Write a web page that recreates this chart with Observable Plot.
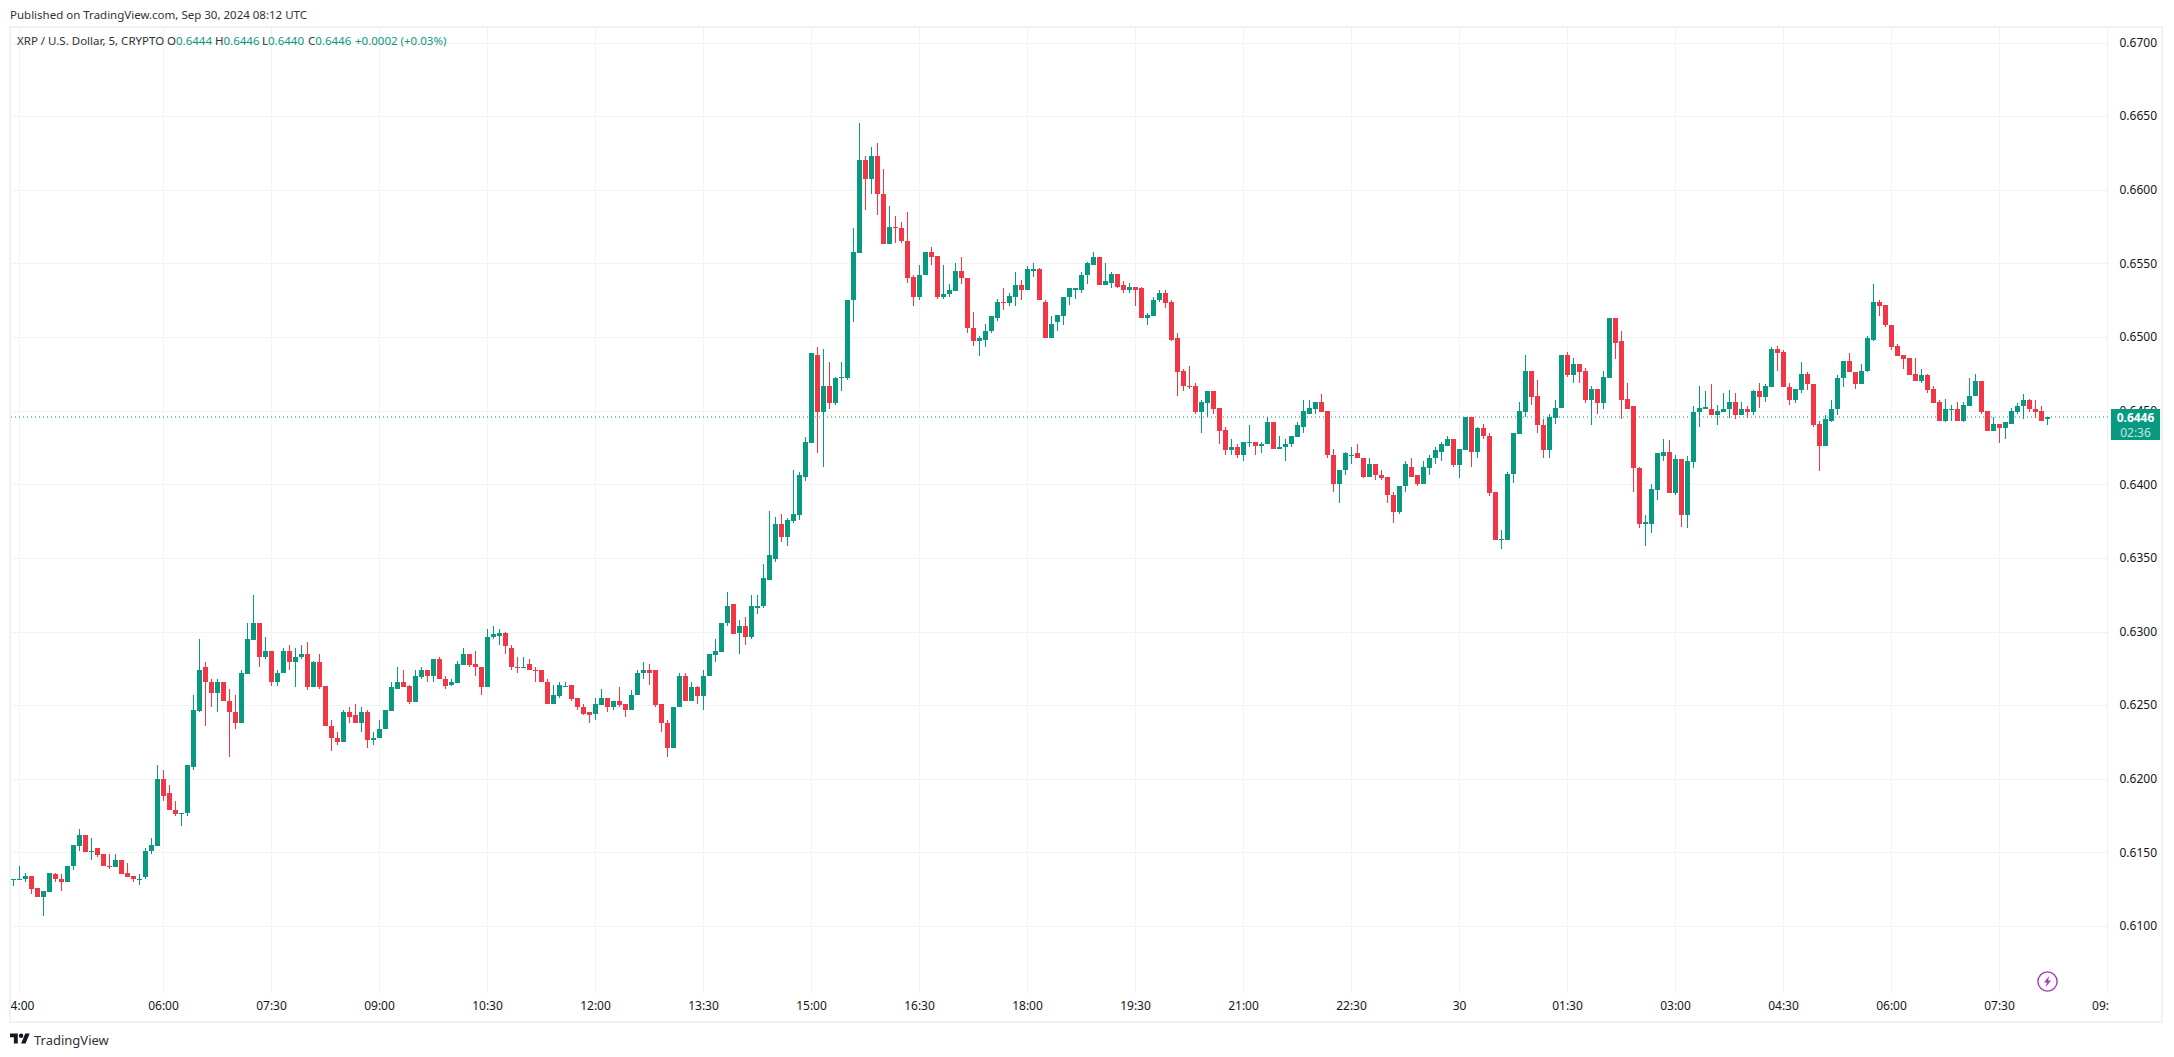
<!DOCTYPE html>
<html><head><meta charset="utf-8">
<script src="https://cdn.jsdelivr.net/npm/d3@7"></script>
<script src="https://cdn.jsdelivr.net/npm/@observablehq/plot@0.6"></script>
<style>
html,body{margin:0;background:#fff;overflow:hidden}
#page{position:relative;width:2174px;height:1057px;font-family:"Noto Sans",sans-serif;color:#131722}
#page svg{display:block}
.abs{position:absolute;white-space:pre}
.g{color:#089981}
</style></head><body>
<div id="page"></div>
<script>
const opens=[
.6132,.6132,.6132,.6134,.6126,.6120,.6123,.6135,.6132,.6130,
.6141,.6154,.6162,.6151,.6153,.6149,.6141,.6140,.6145,.6136,
.6134,.6132,.6133,.6151,.6154,.6200,.6190,.6179,.6176,.6177,
.6208,.6246,.6276,.6266,.6258,.6266,.6253,.6245,.6238,.6271,
.6294,.6306,.6283,.6287,.6266,.6272,.6287,.6279,.6283,.6285,
.6262,.6279,.6263,.6236,.6228,.6225,.6245,.6243,.6238,.6245,
.6226,.6228,.6234,.6246,.6261,.6266,.6263,.6252,.6269,.6274,
.6270,.6281,.6268,.6264,.6265,.6277,.6285,.6278,.6276,.6262,
.6296,.6297,.6299,.6289,.6276,.6275,.6278,.6274,.6274,.6266,
.6251,.6256,.6263,.6264,.6255,.6249,.6245,.6244,.6250,.6255,
.6249,.6253,.6251,.6247,.6257,.6272,.6274,.6274,.6251,.6238,
.6221,.6249,.6270,.6253,.6262,.6256,.6270,.6284,.6286,.6306,
.6319,.6299,.6304,.6296,.6316,.6317,.6335,.6349,.6373,.6364,
.6375,.6379,.6405,.6428,.6488,.6449,.6467,.6455,.6472,.6472,
.6525,.6557,.6620,.6607,.6623,.6597,.6563,.6575,.6574,.6565,
.6541,.6527,.6542,.6558,.6555,.6527,.6529,.6531,.6545,.6540,
.6506,.6497,.6498,.6504,.6513,.6524,.6523,.6527,.6535,.6532,
.6546,.6546,.6524,.6499,.6510,.6514,.6527,.6533,.6532,.6542,
.6549,.6554,.6535,.6537,.6543,.6535,.6532,.6534,.6533,.6513,
.6514,.6525,.6530,.6524,.6499,.6477,.6467,.6467,.6449,.6455,
.6463,.6452,.6437,.6423,.6425,.6420,.6428,.6429,.6426,.6427,
.6442,.6424,.6425,.6427,.6432,.6439,.6448,.6451,.6456,.6450,
.6420,.6400,.6410,.6420,.6421,.6418,.6405,.6414,.6406,.6405,
.6393,.6381,.6399,.6412,.6406,.6400,.6411,.6418,.6422,.6426,
.6431,.6413,.6423,.6446,.6422,.6438,.6433,.6395,.6362,.6362,
.6407,.6434,.6449,.6477,.6460,.6440,.6423,.6445,.6452,.6488,
.6474,.6482,.6477,.6457,.6465,.6455,.6472,.6513,.6497,.6458,
.6453,.6411,.6374,.6373,.6396,.6419,.6422,.6394,.6417,.6379,
.6415,.6449,.6452,.6451,.6447,.6449,.6451,.6456,.6447,.6451,
.6449,.6463,.6459,.6466,.6492,.6490,.6466,.6457,.6464,.6475,
.6468,.6441,.6426,.6443,.6451,.6472,.6484,.6476,.6468,.6477,
.6498,.6524,.6522,.6508,.6494,.6488,.6486,.6475,.6470,.6474,
.6465,.6456,.6443,.6451,.6451,.6443,.6453,.6460,.6470,.6450,
.6436,.6441,.6438,.6441,.6449,.6453,.6457,.6451,.6450,.6444];
const highs=[
.6132,.6141,.6136,.6134,.6126,.6124,.6136,.6136,.6135,.6141,
.6155,.6166,.6162,.6160,.6153,.6149,.6149,.6149,.6145,.6143,
.6134,.6135,.6153,.6160,.6209,.6206,.6196,.6185,.6177,.6209,
.6257,.6295,.6279,.6268,.6268,.6266,.6261,.6257,.6274,.6306,
.6325,.6306,.6296,.6287,.6274,.6289,.6291,.6289,.6291,.6293,
.6280,.6285,.6263,.6240,.6232,.6247,.6249,.6251,.6249,.6247,
.6232,.6240,.6247,.6266,.6276,.6274,.6264,.6274,.6276,.6274,
.6281,.6283,.6270,.6268,.6280,.6289,.6285,.6287,.6276,.6302,
.6304,.6302,.6300,.6291,.6283,.6283,.6281,.6276,.6274,.6268,
.6264,.6266,.6266,.6264,.6255,.6251,.6245,.6255,.6261,.6255,
.6253,.6262,.6251,.6260,.6274,.6279,.6278,.6274,.6251,.6240,
.6249,.6272,.6272,.6266,.6263,.6274,.6285,.6295,.6306,.6327,
.6319,.6308,.6310,.6325,.6325,.6346,.6382,.6378,.6380,.6377,
.6410,.6408,.6432,.6489,.6493,.6492,.6483,.6473,.6483,.6525,
.6574,.6645,.6623,.6629,.6632,.6614,.6589,.6582,.6578,.6585,
.6542,.6549,.6558,.6561,.6555,.6549,.6536,.6550,.6554,.6540,
.6517,.6501,.6509,.6514,.6526,.6533,.6530,.6544,.6539,.6548,
.6550,.6547,.6525,.6514,.6515,.6527,.6533,.6533,.6544,.6551,
.6558,.6554,.6550,.6544,.6543,.6538,.6537,.6534,.6534,.6516,
.6527,.6532,.6532,.6525,.6503,.6478,.6480,.6469,.6457,.6463,
.6463,.6452,.6439,.6431,.6427,.6429,.6440,.6429,.6429,.6446,
.6442,.6433,.6431,.6433,.6442,.6457,.6457,.6456,.6461,.6450,
.6424,.6410,.6422,.6425,.6427,.6418,.6418,.6414,.6410,.6405,
.6395,.6399,.6416,.6418,.6406,.6416,.6420,.6425,.6429,.6433,
.6431,.6424,.6446,.6446,.6439,.6441,.6435,.6395,.6369,.6408,
.6435,.6456,.6488,.6477,.6471,.6444,.6448,.6457,.6488,.6490,
.6486,.6482,.6479,.6467,.6465,.6477,.6513,.6513,.6504,.6469,
.6453,.6412,.6379,.6400,.6421,.6431,.6430,.6420,.6417,.6419,
.6453,.6467,.6463,.6468,.6454,.6462,.6464,.6462,.6456,.6453,
.6464,.6469,.6468,.6493,.6494,.6491,.6469,.6465,.6483,.6476,
.6468,.6443,.6447,.6457,.6474,.6484,.6489,.6476,.6482,.6501,
.6536,.6525,.6522,.6508,.6495,.6488,.6486,.6486,.6478,.6475,
.6467,.6457,.6458,.6454,.6456,.6456,.6472,.6475,.6470,.6450,
.6446,.6441,.6442,.6452,.6455,.6461,.6458,.6457,.6453,.6446];
const lows=[
.6127,.6132,.6130,.6122,.6120,.6107,.6123,.6130,.6124,.6130,
.6138,.6151,.6150,.6145,.6147,.6141,.6139,.6140,.6135,.6133,
.6130,.6128,.6132,.6149,.6154,.6185,.6179,.6175,.6168,.6175,
.6206,.6245,.6236,.6249,.6245,.6253,.6215,.6234,.6238,.6271,
.6294,.6276,.6281,.6263,.6263,.6272,.6274,.6262,.6281,.6260,
.6262,.6261,.6236,.6219,.6223,.6225,.6238,.6238,.6232,.6221,
.6223,.6228,.6234,.6246,.6261,.6262,.6251,.6252,.6268,.6266,
.6266,.6268,.6261,.6263,.6265,.6277,.6276,.6270,.6257,.6262,
.6295,.6291,.6285,.6274,.6272,.6275,.6274,.6266,.6266,.6251,
.6251,.6255,.6262,.6253,.6247,.6243,.6238,.6240,.6250,.6245,
.6247,.6249,.6242,.6247,.6257,.6268,.6264,.6249,.6232,.6215,
.6221,.6249,.6253,.6253,.6251,.6247,.6270,.6279,.6286,.6304,
.6298,.6285,.6291,.6295,.6312,.6316,.6335,.6347,.6361,.6358,
.6374,.6376,.6402,.6428,.6421,.6412,.6451,.6454,.6463,.6471,
.6510,.6557,.6586,.6597,.6583,.6563,.6563,.6564,.6564,.6537,
.6521,.6525,.6542,.6549,.6526,.6526,.6527,.6531,.6536,.6503,
.6494,.6487,.6493,.6503,.6511,.6518,.6521,.6521,.6525,.6532,
.6541,.6525,.6499,.6499,.6504,.6508,.6522,.6526,.6530,.6536,
.6549,.6535,.6535,.6533,.6533,.6530,.6530,.6521,.6513,.6508,
.6514,.6524,.6520,.6497,.6460,.6463,.6465,.6448,.6435,.6446,
.6448,.6427,.6420,.6420,.6418,.6416,.6425,.6420,.6421,.6427,
.6424,.6424,.6416,.6425,.6432,.6435,.6448,.6448,.6449,.6418,
.6395,.6387,.6406,.6414,.6418,.6404,.6405,.6403,.6403,.6387,
.6374,.6380,.6395,.6405,.6399,.6400,.6406,.6414,.6416,.6426,
.6412,.6404,.6423,.6412,.6418,.6431,.6392,.6362,.6356,.6362,
.6401,.6434,.6446,.6454,.6435,.6418,.6418,.6441,.6452,.6473,
.6469,.6469,.6455,.6440,.6448,.6451,.6472,.6485,.6444,.6451,
.6395,.6370,.6358,.6367,.6389,.6416,.6394,.6393,.6371,.6370,
.6411,.6439,.6451,.6447,.6440,.6449,.6445,.6444,.6447,.6445,
.6447,.6452,.6456,.6466,.6477,.6466,.6454,.6455,.6462,.6464,
.6439,.6409,.6426,.6442,.6447,.6466,.6476,.6465,.6468,.6476,
.6497,.6514,.6507,.6491,.6487,.6478,.6474,.6470,.6469,.6462,
.6455,.6443,.6442,.6443,.6443,.6442,.6453,.6460,.6448,.6436,
.6436,.6428,.6431,.6441,.6448,.6444,.6449,.6445,.6443,.6440];
const closes=[
.6132,.6132,.6134,.6125,.6120,.6124,.6136,.6132,.6130,.6141,
.6155,.6162,.6150,.6151,.6148,.6141,.6140,.6145,.6135,.6133,
.6132,.6132,.6151,.6155,.6200,.6188,.6179,.6176,.6177,.6209,
.6247,.6274,.6266,.6258,.6266,.6253,.6245,.6238,.6272,.6295,
.6306,.6283,.6287,.6266,.6272,.6287,.6279,.6283,.6285,.6262,
.6279,.6262,.6236,.6228,.6225,.6245,.6242,.6238,.6245,.6226,
.6228,.6234,.6247,.6262,.6266,.6262,.6252,.6270,.6274,.6270,
.6281,.6268,.6263,.6266,.6278,.6285,.6277,.6276,.6262,.6296,
.6298,.6299,.6290,.6276,.6275,.6276,.6274,.6273,.6266,.6251,
.6257,.6264,.6263,.6254,.6249,.6244,.6243,.6251,.6255,.6249,
.6253,.6250,.6247,.6257,.6272,.6274,.6272,.6250,.6238,.6221,
.6249,.6270,.6253,.6262,.6256,.6270,.6285,.6287,.6306,.6317,
.6298,.6304,.6296,.6317,.6317,.6336,.6352,.6373,.6364,.6376,
.6380,.6406,.6429,.6489,.6449,.6467,.6455,.6472,.6473,.6525,
.6558,.6620,.6607,.6623,.6597,.6563,.6575,.6574,.6565,.6540,
.6527,.6542,.6558,.6554,.6527,.6529,.6532,.6545,.6540,.6506,
.6497,.6499,.6504,.6514,.6524,.6523,.6528,.6535,.6532,.6546,
.6546,.6525,.6499,.6509,.6515,.6527,.6533,.6533,.6542,.6550,
.6554,.6535,.6538,.6543,.6534,.6532,.6534,.6532,.6513,.6515,
.6525,.6530,.6523,.6498,.6476,.6467,.6466,.6449,.6456,.6463,
.6451,.6436,.6423,.6425,.6420,.6429,.6429,.6426,.6427,.6442,
.6424,.6425,.6427,.6433,.6440,.6450,.6452,.6456,.6449,.6420,
.6400,.6410,.6421,.6420,.6418,.6405,.6414,.6406,.6404,.6393,
.6381,.6399,.6414,.6405,.6400,.6412,.6418,.6423,.6427,.6431,
.6413,.6424,.6446,.6422,.6438,.6433,.6394,.6362,.6363,.6407,
.6435,.6450,.6477,.6459,.6440,.6423,.6446,.6452,.6488,.6474,
.6482,.6476,.6457,.6465,.6455,.6473,.6513,.6496,.6457,.6451,
.6411,.6373,.6374,.6397,.6421,.6422,.6394,.6417,.6379,.6416,
.6449,.6452,.6452,.6447,.6450,.6451,.6456,.6447,.6451,.6449,
.6463,.6459,.6467,.6492,.6489,.6466,.6457,.6465,.6475,.6468,
.6440,.6426,.6444,.6451,.6472,.6484,.6476,.6468,.6477,.6499,
.6524,.6521,.6508,.6493,.6487,.6485,.6474,.6470,.6474,.6464,
.6455,.6443,.6451,.6451,.6443,.6454,.6460,.6470,.6449,.6436,
.6441,.6438,.6442,.6450,.6453,.6457,.6451,.6449,.6443,.6446];

const priceTicks=[.6100,.6150,.6200,.6250,.6300,.6350,.6400,.6450,.6500,.6550,.6600,.6650,.6700];
const timeIsos=["2024-09-29T04:00Z","2024-09-29T06:00Z","2024-09-29T07:30Z","2024-09-29T09:00Z","2024-09-29T10:30Z","2024-09-29T12:00Z","2024-09-29T13:30Z","2024-09-29T15:00Z","2024-09-29T16:30Z","2024-09-29T18:00Z","2024-09-29T19:30Z","2024-09-29T21:00Z","2024-09-29T22:30Z","2024-09-30T00:00Z","2024-09-30T01:30Z","2024-09-30T03:00Z","2024-09-30T04:30Z","2024-09-30T06:00Z","2024-09-30T07:30Z","2024-09-30T09:00Z"];
const timeLabels=["4:00","06:00","07:30","09:00","10:30","12:00","13:30","15:00","16:30","18:00","19:30","21:00","22:30","30","01:30","03:00","04:30","06:00","07:30","09:"];
const lastPrice=.6446;

const GREEN="#089981",RED="#F23645",GRID="#f2f3f5",INK="#131722";
const FIVE=300000, t0=Date.parse("2024-09-29T03:55Z");
const barTime=i=>new Date(t0+i*FIVE);
const bars=opens.map((o,i)=>({t:barTime(i),left:barTime(i-5/12),right:barTime(i+5/12),open:o,high:highs[i],low:lows[i],close:closes[i],up:closes[i]>=o}));
const dojis=bars.filter(b=>b.open===b.close);
const gridTimes=timeIsos.map(s=>new Date(s));
const labelOf=new Map(gridTimes.map((d,i)=>[+d,timeLabels[i]]));
const colour=b=>b.up?GREEN:RED;

const W=2174,H=1057,L=11,R=2109,T=28,B=993,SCALE=14725;
const chart=Plot.plot({
  width:W,height:H,marginLeft:L,marginRight:W-R,marginTop:T,marginBottom:H-B,
  style:{background:"#fff",fontFamily:'"Noto Sans",sans-serif',fontSize:"12px",color:INK},
  x:{type:"utc",domain:[barTime((L-13)/6),barTime((R-13)/6)],range:[L,R],label:null},
  y:{domain:[.65-(B-337)/SCALE,.65+(337-T)/SCALE],range:[B,T],label:null},
  marks:[
    Plot.ruleY(priceTicks,{stroke:GRID,strokeWidth:1,shapeRendering:"crispEdges"}),
    Plot.ruleX(gridTimes,{stroke:GRID,strokeWidth:1,shapeRendering:"crispEdges"}),
    Plot.ruleY([lastPrice],{stroke:GREEN,strokeWidth:1,strokeDasharray:"1 3"}),
    Plot.ruleX(bars,{x:"t",y1:"low",y2:"high",stroke:colour,strokeWidth:1,shapeRendering:"crispEdges"}),
    Plot.rect(bars,{x1:"left",x2:"right",y1:"open",y2:"close",fill:colour,shapeRendering:"crispEdges"}),
    Plot.ruleY(dojis,{x1:"left",x2:"right",y:"close",stroke:colour,strokeWidth:1.5,shapeRendering:"crispEdges"}),
    Plot.axisY(priceTicks,{anchor:"right",tickSize:0,tickPadding:10,tickFormat:d3.format(".4f"),label:null,fill:INK}),
    Plot.axisX(gridTimes.slice(1,-1),{anchor:"bottom",tickSize:0,tickPadding:8,tickFormat:d=>labelOf.get(+d),label:null,fill:INK}),
    Plot.axisX(gridTimes.slice(0,1),{anchor:"bottom",tickSize:0,tickPadding:8,dx:3,tickFormat:d=>labelOf.get(+d),label:null,fill:INK}),
    Plot.axisX(gridTimes.slice(-1),{anchor:"bottom",tickSize:0,tickPadding:8,dx:-7,tickFormat:d=>labelOf.get(+d),label:null,fill:INK})
  ]
});
const page=document.getElementById("page");
page.append(chart);
page.insertAdjacentHTML("beforeend",`
<div class="abs" style="left:9px;top:26px;width:2150px;height:993px;border:2px solid #f0f1f3;pointer-events:none"></div>
<div class="abs" style="left:10px;top:7px;font-size:11.5px;color:#2e3238">Published on TradingView.com, Sep 30, 2024 08:12 UTC</div>
<div class="abs" style="left:17px;top:33px;font-size:11.5px;color:#2e3238">XRP / U.S. Dollar, 5, CRYPTO</div>
<div class="abs" style="left:167px;top:33px;font-size:11.5px;color:#2e3238">O<span class="g">0.6444</span></div>
<div class="abs" style="left:215px;top:33px;font-size:11.5px;color:#2e3238">H<span class="g">0.6446</span></div>
<div class="abs" style="left:262px;top:33px;font-size:11.5px;color:#2e3238">L<span class="g">0.6440</span></div>
<div class="abs" style="left:308px;top:33px;font-size:11.5px;color:#2e3238">C<span class="g">0.6446</span></div>
<div class="abs g" style="left:355px;top:33px;font-size:11.5px">+0.0002 (+0.03%)</div>
<div class="abs" style="left:2111px;top:409px;width:49px;height:31px;background:#089981;color:#fff;font-size:12px;line-height:15px;text-align:center"><div style="font-weight:700;margin-top:1px">0.6446</div><div style="opacity:.75">02:36</div></div>
<svg class="abs" style="left:2036px;top:970px" width="23" height="23" viewBox="0 0 23 23"><circle cx="11.5" cy="11.5" r="9.6" fill="#fff" stroke="#a63ab8" stroke-width="1.4"/><path d="M13.3 5.8 8 12.6h3l-1.3 4.6 5.3-6.8h-3z" fill="#a63ab8"/></svg>
<svg class="abs" style="left:10px;top:1031px" width="20" height="16" viewBox="0 0 36 28"><path d="M14 22H7V11H0V4h14v18zM28 22h-8l7.5-18h8L28 22z" fill="#131722"/><circle cx="20" cy="8" r="4" fill="#131722"/></svg>
<div class="abs" style="left:34px;top:1031px;font-size:13px;color:#2e3238">TradingView</div>`);
</script></body></html>
